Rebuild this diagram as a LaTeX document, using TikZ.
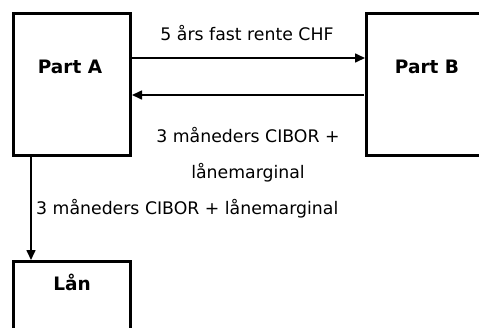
\documentclass[tikz,border=0pt]{standalone}
\usepackage{fontspec}
\setmainfont{DejaVu Sans}
\usetikzlibrary{arrows.meta}
\begin{document}
\begin{tikzpicture}[x=1pt,y=-1pt,
  box/.style={draw,line width=3pt,minimum width=117pt,anchor=north west,inner sep=0pt},
  conn/.style={line width=1.6pt,-{Triangle[length=10pt,width=9pt]}},
  lbl/.style={font=\fontsize{17.3}{36}\selectfont,inner sep=0pt},
  head/.style={font=\bfseries\fontsize{18.5}{20}\selectfont,inner sep=0pt}]
\useasboundingbox (0,0) rectangle (479,327);
\begin{scope}
\clip (0,0) rectangle (479,327);
\node[box,minimum height=142pt] (a) at (12,12) {};
\node[box,minimum height=142pt] (b) at (365,12) {};
\node[box,minimum height=90pt] (l) at (12,260) {};
\end{scope}
\node[head] (ta) at (70,67) {Part A};
\node[head] (tb) at (427,67) {Part B};
\node[head] (tl) at (72,282) {Lån};
\coordinate (p1) at (130,58);
\coordinate (p2) at (364,95);
\draw[conn] (p1) -- (b.west |- p1);
\draw[conn] (p2) -- (a.east |- p2);
\node[lbl] (t1) at (247,33) {5 års fast rente CHF};
\node[lbl,align=center] (t2) at (248,155) {3 måneders CIBOR +\\lånemarginal};
\coordinate (p3) at (31,154);
\draw[conn] (p3) -- (p3 |- l.north);
\node[lbl,anchor=west] (t3) at (36,209) {3 måneders CIBOR + lånemarginal};
\end{tikzpicture}
\end{document}
